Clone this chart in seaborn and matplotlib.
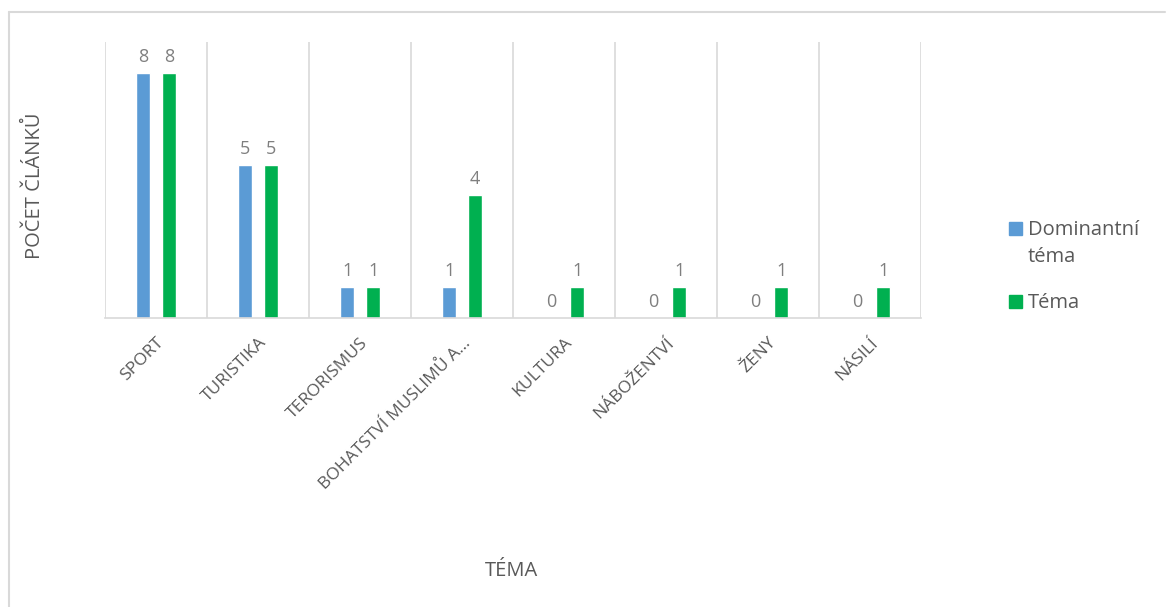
import matplotlib
matplotlib.use("Agg")
import matplotlib.pyplot as plt
import matplotlib.patches as mpatches
from matplotlib.legend_handler import HandlerPatch
import pandas as pd
import seaborn as sns

# data
categories = ["SPORT", "TURISTIKA", "TERORISMUS", "BOHATSTVÍ MUSLIMŮ A…",
              "KULTURA", "NÁBOŽENTVÍ", "ŽENY", "NÁSILÍ"]
dominant = [8, 5, 1, 1, 0, 0, 0, 0]
topic = [8, 5, 1, 4, 1, 1, 1, 1]
series_names = ["Dominantní téma", "Téma"]
colors = ["#5b9bd5", "#00b050"]

df = pd.DataFrame({
    "cat": categories * 2,
    "value": dominant + topic,
    "series": [series_names[0]] * len(categories) + [series_names[1]] * len(categories),
})

sns.set_theme(style="white")
plt.rcParams["font.family"] = ["Open Sans", "DejaVu Sans"]

fig = plt.figure(figsize=(11.71, 6.07), dpi=100)
ax = fig.add_axes([0.0897, 0.476, 0.697, 0.455])

sns.barplot(data=df, x="cat", y="value", hue="series", hue_order=series_names,
            palette=colors, width=0.508, gap=0.45, ax=ax, legend=False,
            saturation=1)

for cont in ax.containers:
    ax.bar_label(cont, padding=5, fontsize=13, color="#7f7f7f")

ax.set_ylim(0, 9)
ax.set_xlim(-0.5, len(categories) - 0.5)
ax.set_yticks([])
for b in range(len(categories) + 1):
    ax.axvline(b - 0.5, color="#d9d9d9", lw=1.2, zorder=0)
for s in ["top", "right", "left"]:
    ax.spines[s].set_visible(False)
ax.spines["bottom"].set_color("#d9d9d9")
ax.spines["bottom"].set_linewidth(1.2)

ax.set_xticks(range(len(categories)))
ax.set_xticklabels(categories, rotation=45, ha="right", rotation_mode="anchor",
                   fontsize=12.5, color="#595959")
ax.tick_params(axis="x", length=0, pad=12)

ax.set_xlabel("TÉMA", fontsize=14.5, color="#595959", labelpad=0)
ax.xaxis.set_label_coords(0.498, -0.88)
ax.set_ylabel("POČET ČLÁNKŮ", fontsize=14.5, color="#595959")
ax.yaxis.set_label_coords(-0.074, 0.48)


# legend square sits on the first text line (like Excel), not the middle
def square(legend, orig_handle, xdescent, ydescent, width, height, fontsize):
    lift = getattr(orig_handle, "lift", 0) * fontsize
    return mpatches.Rectangle((-xdescent, -ydescent + lift), width, height)


handles = [mpatches.Rectangle((0, 0), 1, 1, color=c) for c in colors]
handles[0].lift = 0.75
leg = fig.legend(handles, ["Dominantní\ntéma", "Téma"], loc="upper left",
                 bbox_to_anchor=(0.846, 0.668), frameon=False, fontsize=14.5,
                 labelcolor="#595959", handlelength=0.65, handleheight=0.65,
                 handletextpad=0.3, labelspacing=1.3,
                 handler_map={mpatches.Rectangle: HandlerPatch(patch_func=square)})
for t in leg.get_texts():
    t.set_linespacing(1.5)

# chart area border (left and top edges visible)
fig.add_artist(plt.Line2D([0.008, 0.008], [0.0, 0.981], color="#d9d9d9", lw=1.5))
fig.add_artist(plt.Line2D([0.008, 0.995], [0.981, 0.981], color="#d9d9d9", lw=1.5))

fig.savefig("out.png", dpi=100)
